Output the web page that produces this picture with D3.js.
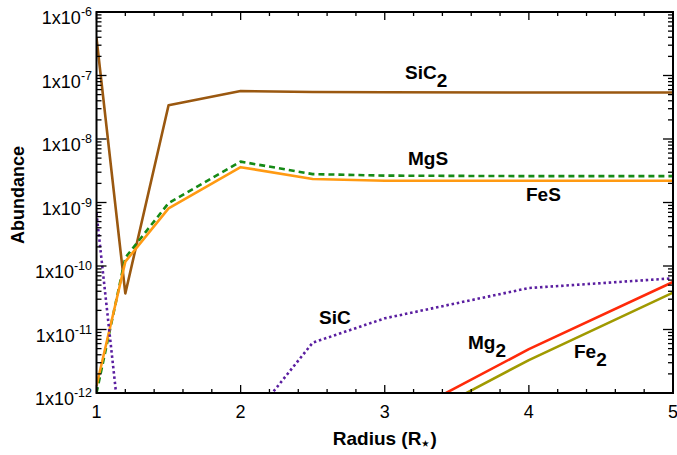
<!DOCTYPE html>
<html><head><meta charset="utf-8">
<script src="https://cdn.jsdelivr.net/npm/d3@7"></script>
<style>body{margin:0;background:#fff}svg{display:block}text{font-family:"Liberation Sans",Arial,Helvetica,sans-serif}</style>
</head><body><div id="chart"></div>
<script>
const radius = [1, 1.2, 1.5, 2, 2.5, 3, 4, 5];
const sic2 = [3.9e-7, 3.7e-11, 3.4e-8, 5.7e-8, 5.5e-8, 5.45e-8, 5.4e-8, 5.4e-8];
const mgs  = [1.0e-12, 1.35e-10, 9.8e-10, 4.4e-9, 2.8e-9, 2.65e-9, 2.6e-9, 2.6e-9];
const fes  = [1.3e-12, 1.17e-10, 8.1e-10, 3.6e-9, 2.35e-9, 2.2e-9, 2.2e-9, 2.2e-9];
const sic  = [6.8e-10, 4.5e-14, 1.2e-13, 2.4e-13, 6.2e-12, 1.5e-11, 4.5e-11, 6.4e-11];
const mg2  = [null, null, null, null, null, 3.1e-13, 4.9e-12, 5.6e-11];
const fe2  = [null, null, null, null, null, 2.1e-13, 3.3e-12, 3.8e-11];
const xTicks = [1, 2, 3, 4, 5];
const yExps = [-12, -11, -10, -9, -8, -7, -6];

const series = [
  {name: "SiC", sub: "2", values: sic2, color: "#9a5810", dash: null, lx: 405, ly: 79},
  {name: "MgS", sub: "", values: mgs, color: "#168a16", dash: "6,4", lx: 408, ly: 165},
  {name: "FeS", sub: "", values: fes, color: "#ff9a12", dash: null, lx: 526, ly: 201},
  {name: "SiC", sub: "", values: sic, color: "#5a1ea0", dash: "2.5,2.8", lx: 319, ly: 324},
  {name: "Mg", sub: "2", values: mg2, color: "#ff2a0a", dash: null, lx: 468, ly: 349},
  {name: "Fe", sub: "2", values: fe2, color: "#a09a00", dash: null, lx: 574, ly: 358}
];

const W = 677, H = 455;
const m = {l: 96.5, r: 4, t: 12, b: 62};
const x = d3.scaleLinear().domain([1, 5]).range([m.l, W - m.r]);
const y = d3.scaleLog().domain([1e-12, 1e-6]).range([H - m.b, m.t]);

const svg = d3.select("#chart").append("svg").attr("width", W).attr("height", H);
svg.append("defs").append("clipPath").attr("id", "clip")
  .append("rect").attr("x", x(1)).attr("y", y(1e-6)).attr("width", x(5) - x(1)).attr("height", y(1e-12) - y(1e-6));

const line = d3.line().defined(d => d[1] != null).x(d => x(d[0])).y(d => y(d[1]));
const g = svg.append("g").attr("clip-path", "url(#clip)");
series.forEach(s => {
  g.append("path").datum(radius.map((r, i) => [r, s.values[i]]))
    .attr("d", line).attr("fill", "none").attr("stroke", s.color)
    .attr("stroke-width", 2.6).attr("stroke-dasharray", s.dash)
    .attr("stroke-linejoin", "round");
});

// ticks
const tk = svg.append("g").attr("stroke", "#000").attr("stroke-width", 1.3);
const x0 = x(1), x1 = x(5), y0 = y(1e-12), y1 = y(1e-6);
const xMinor = d3.range(1, 5.0001, 0.2);
xMinor.forEach(v => {
  const major = Math.abs(v - Math.round(v)) < 1e-6;
  const len = major ? 8 : 4;
  tk.append("line").attr("x1", x(v)).attr("x2", x(v)).attr("y1", y0).attr("y2", y0 - len);
  tk.append("line").attr("x1", x(v)).attr("x2", x(v)).attr("y1", y1).attr("y2", y1 + len);
});
for (let e = -12; e < -6; e++) {
  for (let k = 1; k <= 9; k++) {
    const v = k * Math.pow(10, e);
    const len = k === 1 ? 10 : 5;
    tk.append("line").attr("x1", x0).attr("x2", x0 + len).attr("y1", y(v)).attr("y2", y(v));
    tk.append("line").attr("x1", x1).attr("x2", x1 - len).attr("y1", y(v)).attr("y2", y(v));
  }
}
tk.append("line").attr("x1", x0).attr("x2", x0 + 10).attr("y1", y1).attr("y2", y1);
tk.append("line").attr("x1", x1).attr("x2", x1 - 10).attr("y1", y1).attr("y2", y1);

svg.append("rect").attr("x", x0).attr("y", y1).attr("width", x1 - x0).attr("height", y0 - y1)
  .attr("fill", "none").attr("stroke", "#000").attr("stroke-width", 2);

// x tick labels
svg.append("g").selectAll("text").data(xTicks).join("text")
  .attr("x", d => x(d)).attr("y", y0 + 25).attr("text-anchor", "middle")
  .attr("font-size", 18).text(d => d);

// y tick labels
const yl = svg.append("g").selectAll("text").data(yExps).join("text")
  .attr("x", 92).attr("y", d => y(Math.pow(10, d)) + 12).attr("text-anchor", "end")
  .attr("font-size", 18);
yl.append("tspan").text("1x10");
yl.append("tspan").attr("font-size", 12.5).attr("dy", -8).text(d => String(d));

// axis titles
const xt = svg.append("text").attr("x", (x0 + x1) / 2).attr("y", 445).attr("text-anchor", "middle")
  .attr("font-size", 19).attr("font-weight", "bold");
xt.append("tspan").text("Radius (R");
xt.append("tspan").attr("font-size", 14).attr("dy", 3).text("\u22C6");
xt.append("tspan").attr("dy", -3).text(")");

svg.append("text").attr("transform", `translate(24,195) rotate(-90)`)
  .attr("text-anchor", "middle").attr("font-size", 18).attr("font-weight", "bold").text("Abundance");

// series labels
series.forEach(s => {
  const t = svg.append("text").attr("x", s.lx).attr("y", s.ly).attr("font-size", 19).attr("font-weight", "bold");
  t.append("tspan").text(s.name);
  if (s.sub) t.append("tspan").attr("dy", 8).text(s.sub);
});
</script></body></html>
